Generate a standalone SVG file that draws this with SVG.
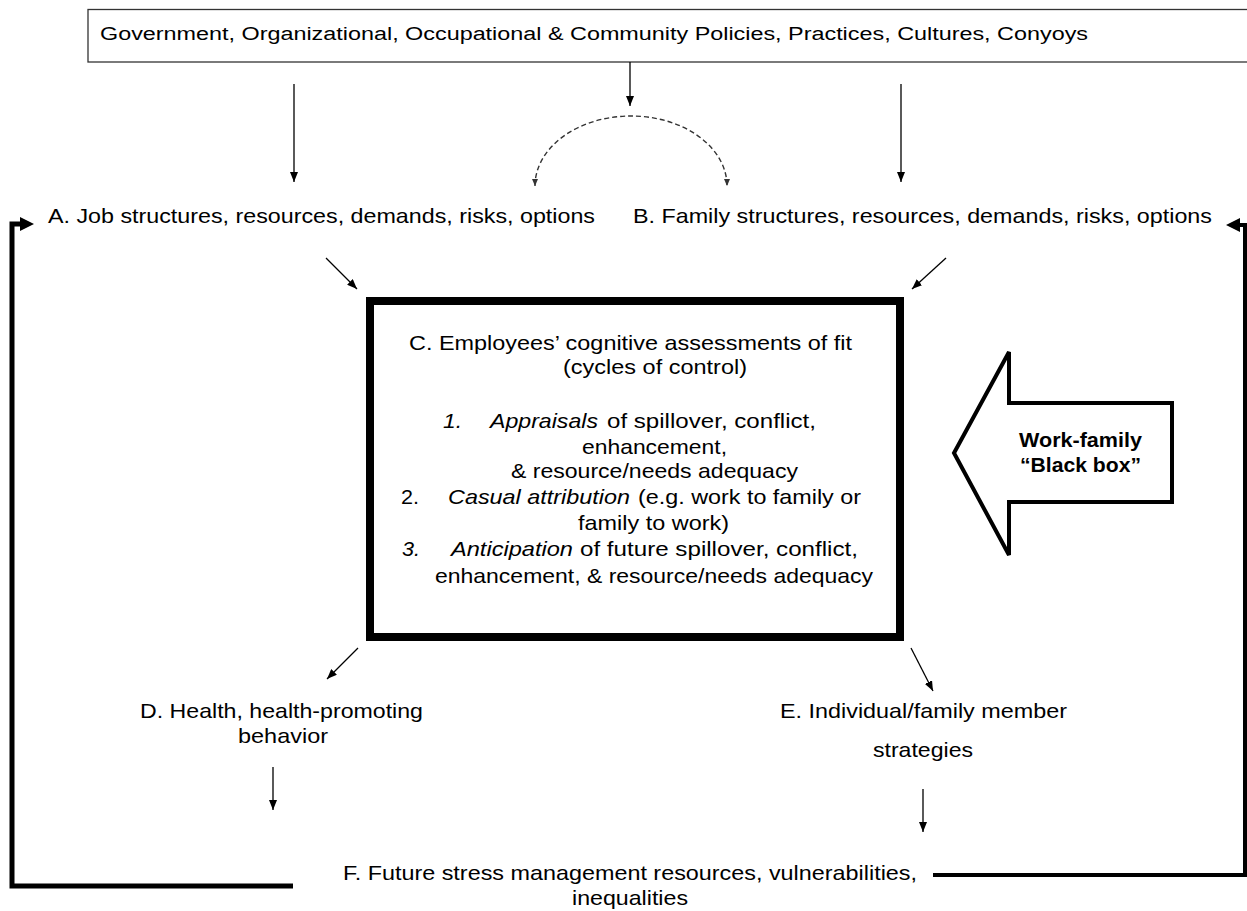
<svg xmlns="http://www.w3.org/2000/svg" width="1247" height="911" viewBox="0 0 1247 911">
<style>
text{font-family:"Liberation Sans",Arial,sans-serif;fill:#000;font-size:21px}
.top{font-size:18px}
.it{font-style:italic}
.bb{font-weight:bold}
.thin{stroke:#000;stroke-width:1.3;fill:none;marker-end:url(#ah)}
.dash{stroke:#333;stroke-width:1.4;fill:none;stroke-dasharray:5 3;marker-start:url(#dh);marker-end:url(#dh)}
.loop{stroke:#000;fill:none;stroke-linejoin:miter}
</style>
<defs>
<marker id="ah" markerUnits="userSpaceOnUse" markerWidth="10" markerHeight="8" refX="10" refY="4" orient="auto">
<path d="M0,0 L10,4 L0,8 z" fill="#000"/>
</marker>
<marker id="dh" markerUnits="userSpaceOnUse" markerWidth="7" markerHeight="6" refX="7" refY="3" orient="auto-start-reverse">
<path d="M0,0 L7,3 L0,6 z" fill="#333"/>
</marker>
</defs>
<rect width="1247" height="911" fill="#fff"/>

<g id="policies">
<rect x="88" y="9.5" width="1165" height="52.5" fill="#fff" stroke="#333" stroke-width="1.3"/>
<text class="top" x="100" y="40" textLength="988" lengthAdjust="spacingAndGlyphs">Government, Organizational, Occupational &amp; Community Policies, Practices, Cultures, Conyoys</text>
</g>

<g id="nodeA">
<text x="48" y="223" textLength="547" lengthAdjust="spacingAndGlyphs">A. Job structures, resources, demands, risks, options</text>
</g>

<g id="nodeB">
<text x="633" y="223" textLength="579" lengthAdjust="spacingAndGlyphs">B. Family structures, resources, demands, risks, options</text>
</g>

<g id="nodeC">
<rect x="370" y="301" width="530" height="336" fill="#fff" stroke="#000" stroke-width="8"/>
<text x="409" y="350" textLength="443" lengthAdjust="spacingAndGlyphs">C. Employees’ cognitive assessments of fit</text>
<text x="563" y="374" textLength="184" lengthAdjust="spacingAndGlyphs">(cycles of control)</text>
<text class="it" x="443" y="428" textLength="19" lengthAdjust="spacingAndGlyphs">1.</text>
<text class="it" x="490" y="428" textLength="108" lengthAdjust="spacingAndGlyphs">Appraisals</text>
<text x="607" y="428" textLength="209" lengthAdjust="spacingAndGlyphs">of spillover, conflict,</text>
<text x="582" y="454" textLength="145" lengthAdjust="spacingAndGlyphs">enhancement,</text>
<text x="511" y="478" textLength="287" lengthAdjust="spacingAndGlyphs">&amp; resource/needs adequacy</text>
<text x="401" y="504" textLength="18" lengthAdjust="spacingAndGlyphs">2.</text>
<text class="it" x="448" y="504" textLength="182" lengthAdjust="spacingAndGlyphs">Casual attribution</text>
<text x="638" y="504" textLength="223" lengthAdjust="spacingAndGlyphs">(e.g. work to family or</text>
<text x="578" y="530" textLength="151" lengthAdjust="spacingAndGlyphs">family to work)</text>
<text class="it" x="402" y="556" textLength="18" lengthAdjust="spacingAndGlyphs">3.</text>
<text class="it" x="451" y="556" textLength="122" lengthAdjust="spacingAndGlyphs">Anticipation</text>
<text x="580" y="556" textLength="278" lengthAdjust="spacingAndGlyphs">of future spillover, conflict,</text>
<text x="435" y="583" textLength="438" lengthAdjust="spacingAndGlyphs">enhancement, &amp; resource/needs adequacy</text>
</g>

<g id="blackbox">
<polygon points="954,453 1009,352 1009,403 1172,403 1172,502 1009,502 1009,555" fill="#fff" stroke="#000" stroke-width="4" stroke-linejoin="miter"/>
<text class="bb" x="1019" y="447" textLength="123" lengthAdjust="spacingAndGlyphs">Work-family</text>
<text class="bb" x="1020" y="472" textLength="121" lengthAdjust="spacingAndGlyphs">“Black box”</text>
</g>

<g id="nodeD">
<text x="140" y="718" textLength="283" lengthAdjust="spacingAndGlyphs">D. Health, health-promoting</text>
<text x="238" y="743" textLength="90" lengthAdjust="spacingAndGlyphs">behavior</text>
</g>

<g id="nodeE">
<text x="780" y="718" textLength="287" lengthAdjust="spacingAndGlyphs">E. Individual/family member</text>
<text x="873" y="757" textLength="100" lengthAdjust="spacingAndGlyphs">strategies</text>
</g>

<g id="nodeF">
<text x="343" y="880" textLength="574" lengthAdjust="spacingAndGlyphs">F. Future stress management resources, vulnerabilities,</text>
<text x="572" y="905" textLength="116" lengthAdjust="spacingAndGlyphs">inequalities</text>
</g>

<g id="connectors">
<path class="thin" d="M294,84 L294,182"/>
<path class="thin" d="M630,62 L630,106"/>
<path class="thin" d="M901,84 L901,182"/>
<path class="dash" d="M535,186 A96,70 0 0 1 727,186"/>
<path class="thin" d="M326,258 L357,289"/>
<path class="thin" d="M946,258 L912,289"/>
<path class="thin" d="M358,648 L327,679"/>
<path class="thin" d="M911,648 L933,691"/>
<path class="thin" d="M273,767 L273,810"/>
<path class="thin" d="M923,789 L923,832"/>
<path class="loop" stroke-width="5" d="M293,886 L12,886 L12,224 L22,224"/>
<polygon points="20,217 34,224 20,231" fill="#000"/>
<path class="loop" stroke-width="4" d="M933,875 L1245,875 L1245,225 L1238,225"/>
<polygon points="1240,218 1226,225 1240,232" fill="#000"/>
</g>
</svg>
